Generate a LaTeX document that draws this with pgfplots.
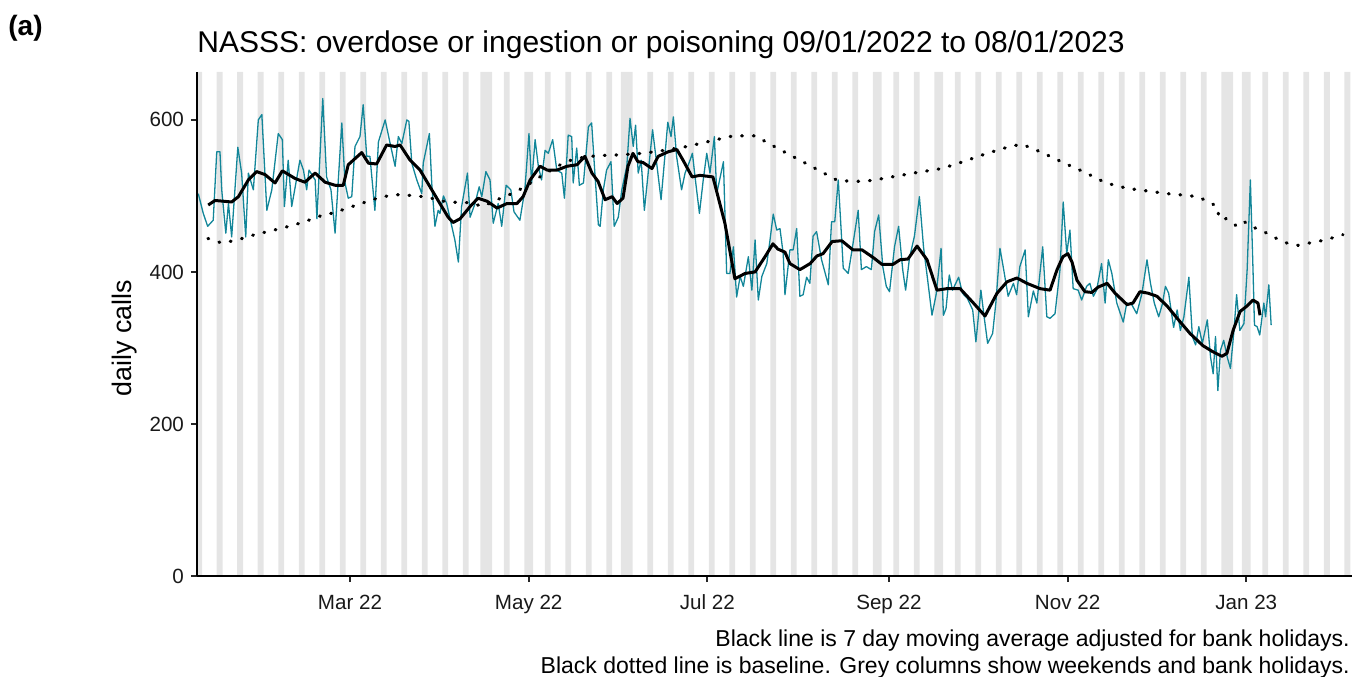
\documentclass[border=0pt]{standalone}
\usepackage{pgfplots}
\usepackage{pgfplotstable}
\pgfplotsset{compat=1.18}
\usepackage{fontspec}
\setmainfont{Liberation Sans}

\definecolor{callteal}{RGB}{18,134,153}
\definecolor{wkend}{RGB}{229,229,229}

% day 0 = 01/01/2022
\pgfplotstableread{
d v
7.2 503
8.9 477
10.4 460
12.3 468
13.5 558
14.6 558
15.2 508
16.6 451
17.5 490
18.6 446
20.7 564
22.0 530
23.4 446
24.3 530
26.0 508
27.7 600
28.9 607
30.6 481
32.3 508
34.5 582
35.9 574
36.6 486
37.9 547
39.1 486
41.9 547
43.1 534
44.2 508
45.0 534
47.1 521
47.7 470
49.7 628
51.0 525
52.5 508
53.9 451
56.2 596
57.3 517
58.4 497
59.6 499
60.7 565
62.4 578
63.5 620
64.7 552
65.8 552
67.5 481
68.7 571
71.0 600
72.7 569
74.4 539
75.5 578
76.7 569
78.4 600
79.1 598
80.1 543
81.8 521
83.5 503
84.0 543
86.1 582
86.9 517
88.0 460
89.1 481
89.7 477
90.9 500
92.0 490
94.8 442
96.0 413
97.1 486
99.1 530
100.0 472
101.7 490
103.1 512
104.0 499
105.4 532
106.8 521
107.9 464
109.6 490
110.8 460
112.3 514
113.9 508
115.0 479
117.0 468
118.7 508
120.1 582
121.0 517
122.2 574
123.3 539
124.4 521
125.6 560
126.7 556
128.2 574
129.6 534
131.3 530
132.2 497
133.5 580
134.7 578
135.2 517
136.4 563
137.3 514
138.7 517
140.4 591
141.5 596
142.6 530
143.8 462
144.4 460
145.5 508
146.6 534
148.1 545
149.2 460
150.6 472
151.8 508
153.5 539
154.6 602
155.7 565
156.5 593
157.4 530
158.4 547
159.5 481
160.8 530
162.3 587
163.7 543
165.2 495
166.5 552
167.5 597
168.6 578
169.4 604
170.5 552
172.2 508
173.4 530
175.1 547
175.9 556
176.8 525
178.3 477
179.6 521
180.8 556
181.9 530
183.4 578
184.2 503
186.5 545
187.6 398
188.7 398
189.9 433
191.0 367
192.2 394
193.3 381
195.0 420
196.2 376
197.3 442
198.4 363
199.6 394
201.3 411
202.4 442
203.5 476
204.7 455
205.8 457
206.9 424
207.5 370
209.2 429
210.3 429
211.5 457
212.6 368
213.7 370
214.9 393
216.0 385
217.1 447
218.3 453
220.0 416
222.3 383
223.4 466
224.5 466
225.7 521
226.8 447
227.4 405
229.1 398
230.2 424
232.5 481
233.6 403
235.3 407
237.0 403
238.1 453
239.5 475
240.9 407
242.1 381
243.2 374
244.9 433
246.3 460
247.7 403
248.7 376
250.0 418
251.7 447
253.4 499
254.8 433
256.2 390
257.7 343
259.1 370
260.8 431
261.6 343
262.5 352
263.6 396
264.7 376
266.8 393
268.1 372
269.8 365
271.6 350
272.7 308
274.4 376
275.5 341
276.7 306
278.4 319
279.5 359
280.9 431
282.0 407
283.7 368
285.5 385
286.6 370
287.7 407
289.5 429
290.6 341
292.3 375
293.5 359
295.5 433
296.9 341
298.0 339
299.7 345
301.4 403
302.5 492
303.7 424
304.8 455
305.9 378
307.6 376
308.8 363
310.5 381
311.6 385
312.8 368
313.9 376
315.6 411
316.8 359
317.9 416
319.1 398
320.8 359
323.0 334
324.2 359
325.9 357
327.6 345
329.4 372
331.1 416
332.3 385
333.6 359
335.1 341
336.3 357
337.4 381
338.5 372
340.2 327
341.4 350
342.5 323
343.7 341
345.4 393
346.6 315
347.7 304
348.8 328
350.0 306
351.7 337
352.8 288
353.7 266
354.5 315
355.3 244
356.2 297
357.3 310
358.5 288
359.6 273
360.8 323
361.7 370
362.8 323
364.2 332
365.3 403
366.4 521
367.3 403
367.8 330
368.7 328
369.6 317
371.0 359
371.6 341
372.7 383
373.5 330
}\daily

\pgfplotstableread{
d v
10.6 488
12.9 494
18.6 492
20.9 499
24.3 521
27.1 532
30.0 528
33.4 517
35.9 533
40.2 523
43.6 518
47.1 530
50.5 518
53.9 514
56.7 514
58.4 541
63.0 557
65.3 543
68.1 542
71.5 567
74.4 565
76.1 567
79.5 547
82.9 534
86.3 512
89.7 490
92.5 472
94.2 465
96.6 470
100.0 486
102.7 497
105.8 493
109.2 484
112.6 490
116.0 490
118.1 499
120.5 521
123.9 539
126.3 534
129.7 534
133.1 539
136.5 541
139.2 552
141.6 530
143.7 519
146.1 495
148.5 499
150.2 490
152.2 497
153.9 539
155.6 556
157.3 545
159.0 544
162.1 536
164.2 552
167.6 558
170.6 561
172.7 547
175.8 525
178.5 527
182.9 525
187.0 464
190.4 391
193.9 398
197.3 400
200.7 420
203.4 437
205.1 430
207.5 426
209.2 411
212.6 403
216.1 411
218.4 421
220.5 424
223.6 440
226.9 441
230.7 429
233.8 429
237.6 419
240.6 410
244.4 410
246.8 416
249.5 417
252.6 434
256.0 416
259.4 376
262.8 378
267.3 378
271.4 361
275.8 342
279.9 372
283.3 387
286.7 392
290.1 385
294.6 378
298.0 376
300.4 403
302.4 420
304.1 424
305.5 413
307.2 389
309.9 374
312.3 373
314.4 380
317.5 385
320.2 372
324.3 357
326.3 359
328.7 374
331.5 372
334.5 368
338.0 355
341.4 339
345.8 319
350.2 303
353.6 295
356.7 289
358.4 293
360.5 323
362.9 348
365.2 355
367.3 363
369.0 359
369.7 343
}\movavg

\pgfplotstableread{
d v
10.5 444
15.3 438
19.1 441
23.2 445
27.2 450
31.0 453
35.1 457
39.2 461
42.6 465
46.4 470
49.8 475
53.9 478
58.0 484
61.4 488
65.1 493
69.2 498
73.3 501
77.1 502
80.5 500
84.6 499
92.1 492
100.0 491
104.4 486
108.5 494
111.9 499
115.3 505
118.7 512
124.6 527
131.7 543
135.8 549
143.3 553
151.2 554
158.7 556
166.5 560
174.1 565
181.9 572
189.8 579
197.3 579
204.8 563
211.6 549
218.4 535
222.2 527
225.6 520
234.1 519
238.2 521
252.9 531
261.1 536
268.3 545
276.5 556
284.3 565
288.4 568
295.3 557
302.4 544
309.9 531
317.1 517
324.3 510
332.1 506
340.0 502
344.0 501
348.2 499
351.9 493
355.0 486
355.8 470
358.1 470
361.5 461
363.9 467
367.3 459
371.0 453
374.8 445
378.9 438
382.7 435
386.5 438
390.6 441
394.6 445
398.0 449
}\baseline

\begin{document}
\begin{tikzpicture}
\path[use as bounding box] (0,0) rectangle (678.5pt,338pt);
\begin{axis}[
  at={(98.5pt,50pt)}, anchor=south west,
  scale only axis, width=577.5pt, height=252pt,
  xmin=6.76, xmax=401.1, ymin=0, ymax=663,
  axis x line=bottom, axis y line=left,
  axis line style={-, line width=1pt, black},
  axis on top,
  xtick={59,120,181,243,304,365},
  xticklabels={Mar 22,May 22,Jul 22,Sep 22,Nov 22,Jan 23},
  ytick={0,200,400,600},
  tick align=outside, major tick length=3pt,
  tick style={line width=0.9pt, black!85},
  ticklabel style={font=\fontsize{10.3}{12}\selectfont, text=black!90},
  xticklabel style={yshift=-3pt},
  /pgf/number format/assume math mode=true,
]
% weekends and bank holidays
\addplot[ybar, bar width=1, fill=wkend, draw=none] coordinates {
(7,663)(8,663)(14,663)(15,663)(21,663)(22,663)(28,663)(29,663)(35,663)(36,663)
(42,663)(43,663)(49,663)(50,663)(56,663)(57,663)(63,663)(64,663)(70,663)(71,663)
(77,663)(78,663)(84,663)(85,663)(91,663)(92,663)(98,663)(99,663)
(104,663)(105,663)(106,663)(107,663)(112,663)(113,663)(119,663)(120,663)(121,663)
(126,663)(127,663)(133,663)(134,663)(140,663)(141,663)(147,663)(148,663)
(152,663)(153,663)(154,663)(155,663)(161,663)(162,663)(168,663)(169,663)
(175,663)(176,663)(182,663)(183,663)(189,663)(190,663)(196,663)(197,663)
(203,663)(204,663)(210,663)(211,663)(217,663)(218,663)(224,663)(225,663)
(231,663)(232,663)(238,663)(239,663)(240,663)(245,663)(246,663)(252,663)(253,663)
(259,663)(260,663)(261,663)(266,663)(267,663)(273,663)(274,663)(280,663)(281,663)
(287,663)(288,663)(294,663)(295,663)(301,663)(302,663)(308,663)(309,663)
(315,663)(316,663)(322,663)(323,663)(329,663)(330,663)(336,663)(337,663)
(343,663)(344,663)(350,663)(351,663)(357,663)(358,663)(359,663)(360,663)
(364,663)(365,663)(366,663)(371,663)(372,663)(378,663)(379,663)(385,663)(386,663)
(392,663)(393,663)(399,663)(400,663)
};
\addplot[color=callteal, line width=0.65pt, line join=round] table[x=d, y=v] {\daily};
\addplot[black, line width=1.6pt, dash pattern=on 0.4pt off 5.4pt, line cap=round] table[x=d, y=v] {\baseline};
\addplot[black, line width=1.5pt, line join=round] table[x=d, y=v] {\movavg};
\end{axis}
\node[anchor=base west, inner sep=0pt, font=\bfseries\fontsize{14}{16}\selectfont] at (4pt,320pt) {(a)};
\node[anchor=base west, inner sep=0pt, font=\fontsize{15}{18}\selectfont] at (98.5pt,311.5pt) {NASSS: overdose or ingestion or poisoning 09/01/2022 to 08/01/2023};
\node[rotate=90, inner sep=0pt, font=\fontsize{13.4}{15}\selectfont] at (62.5pt,169pt) {daily calls};
\node[anchor=base east, inner sep=0pt, font=\fontsize{11.5}{13}\selectfont] at (675pt,15pt) {Black line is 7 day moving average adjusted for bank holidays.};
\node[anchor=base east, inner sep=0pt, font=\fontsize{11.5}{13}\selectfont] at (675pt,1.5pt) {Black dotted line is baseline. Grey columns show weekends and bank holidays.};
\end{tikzpicture}
\end{document}
